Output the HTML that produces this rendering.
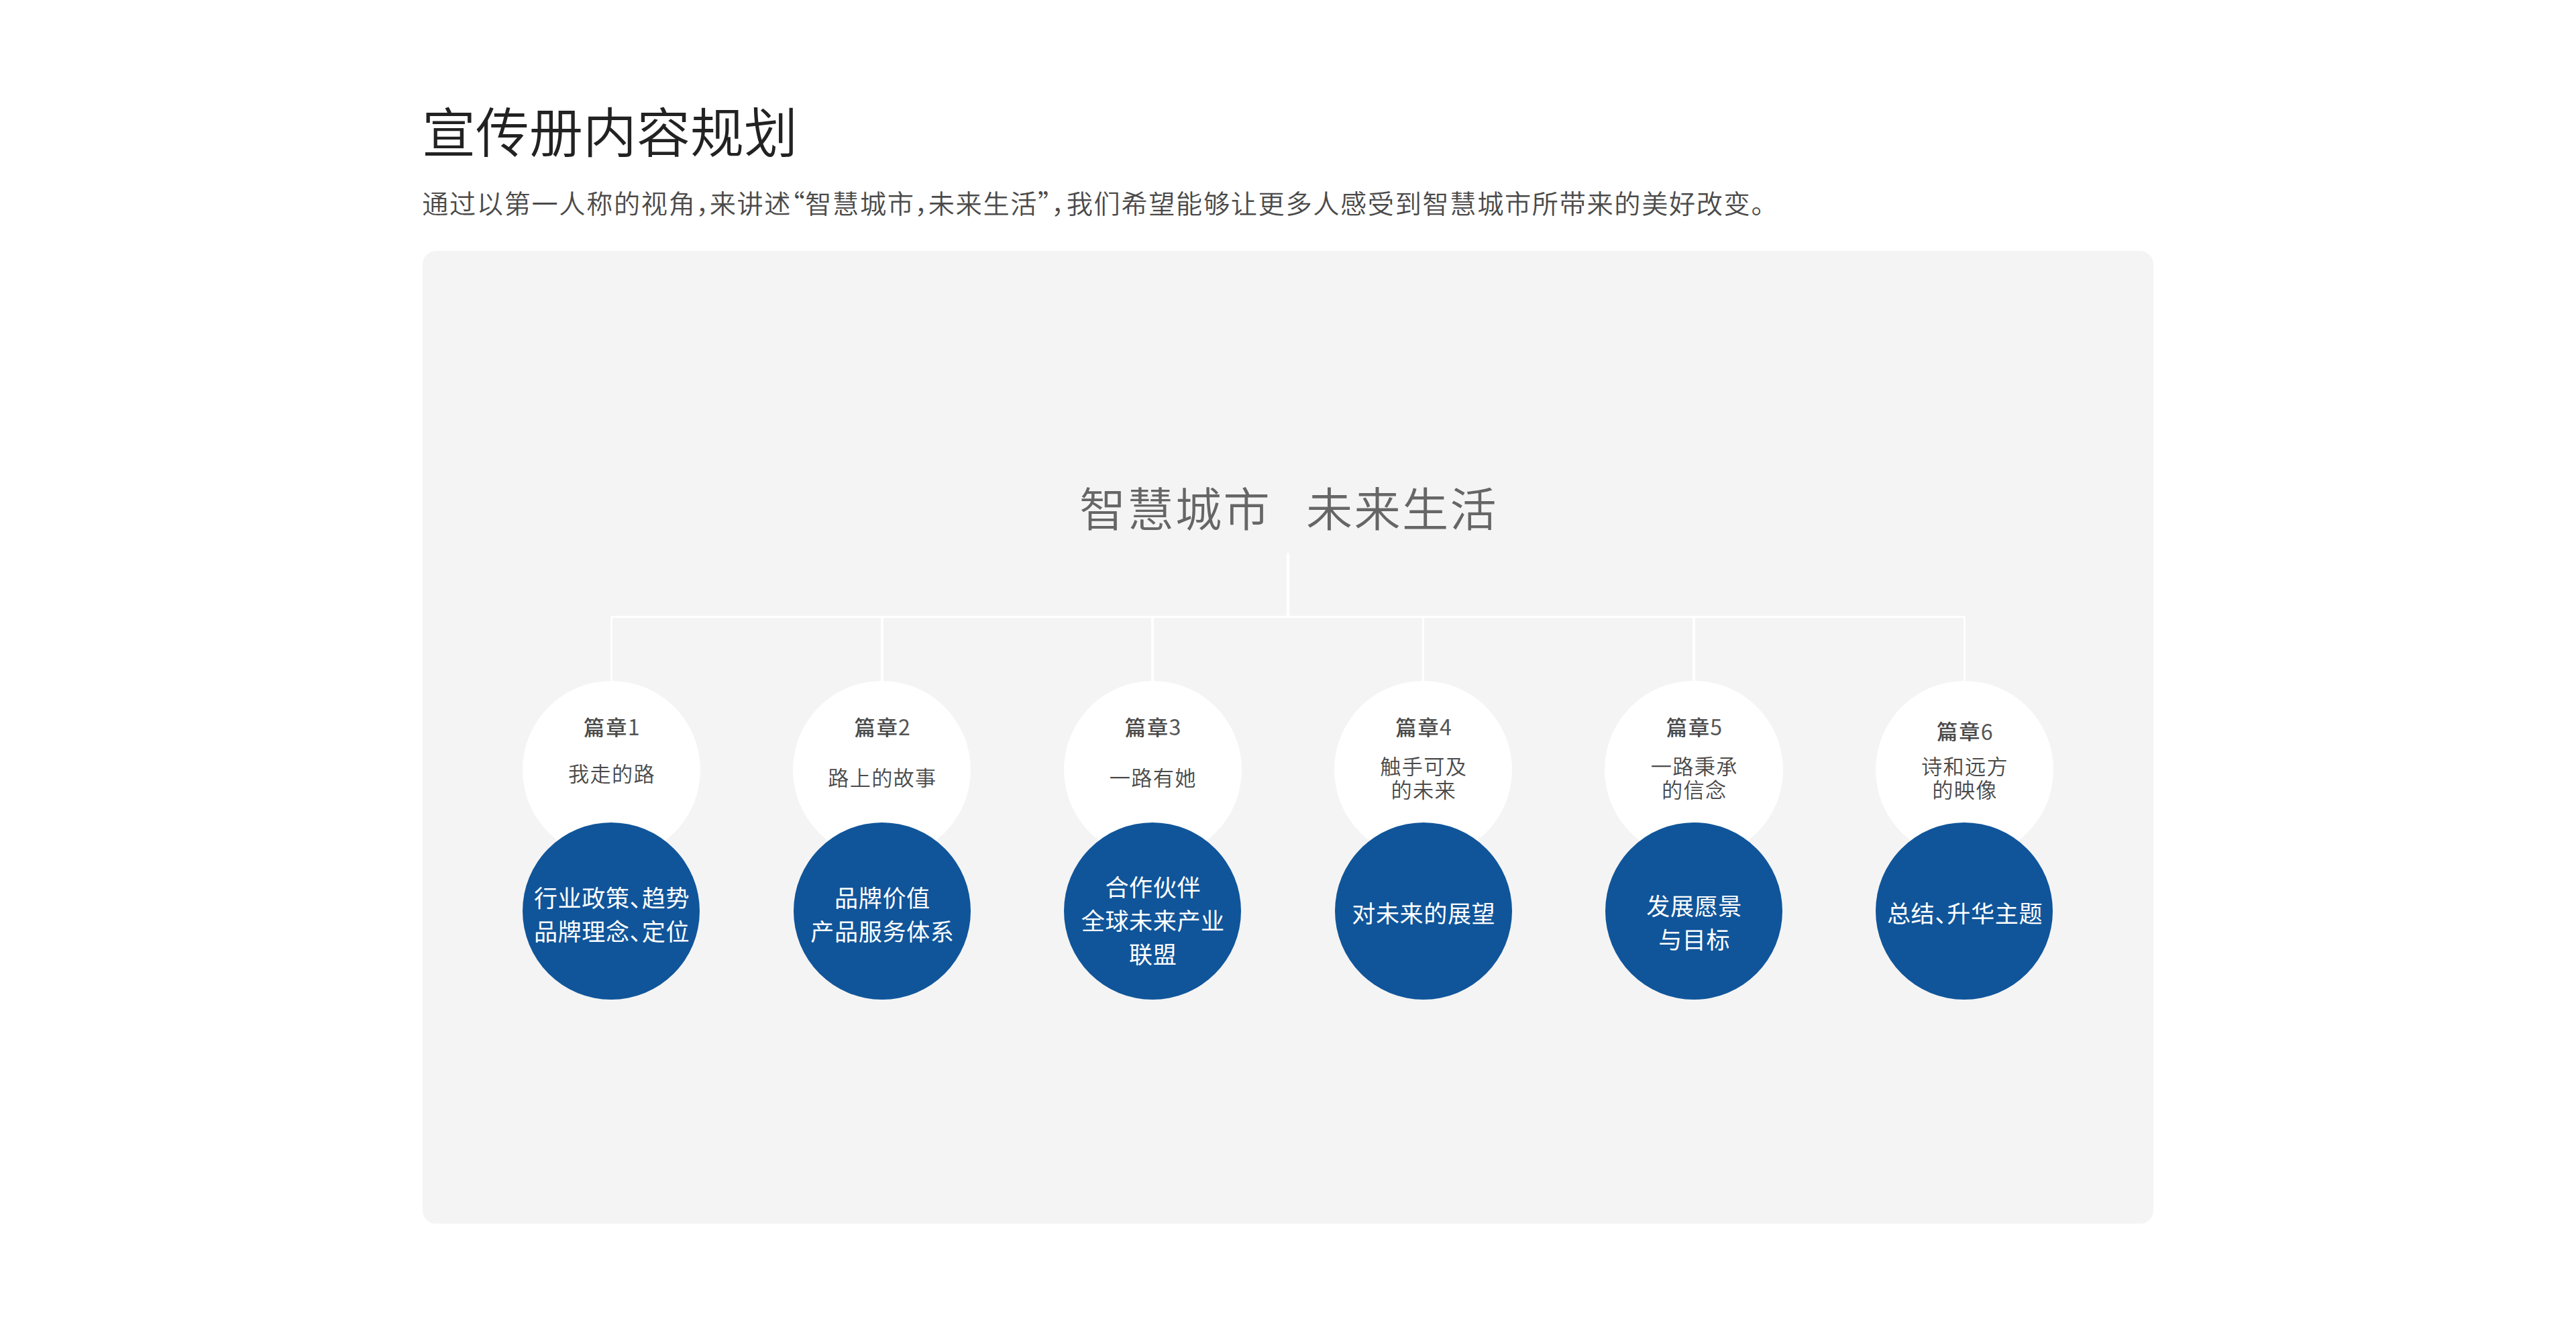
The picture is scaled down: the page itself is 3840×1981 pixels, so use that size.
<!DOCTYPE html>
<html lang="zh-CN">
<head>
<meta charset="utf-8">
<title>宣传册内容规划</title>
<style>
html,body{margin:0;padding:0;background:#fff;}
body{width:3840px;height:1981px;position:relative;overflow:hidden;
  font-family:"Liberation Sans","Noto Sans CJK SC",sans-serif;
  -webkit-font-smoothing:antialiased;}
.n{font-family:"Noto Sans CJK SC","Liberation Sans",sans-serif;}
.abs{position:absolute;white-space:nowrap;}
.p{letter-spacing:0.57px;}
#title{left:628.9px;top:141.5px;font-size:80px;line-height:116px;font-weight:350;color:#222;}
#sub{left:629.2px;top:270.7px;font-size:39.2px;letter-spacing:1.64px;line-height:60px;font-weight:350;color:#4a4a4a;
  font-feature-settings:"halt" 1;}
#panel{position:absolute;left:630px;top:373.6px;width:2580px;height:1450.4px;border-radius:20px;background:#f4f4f4;}
#ct{left:1321px;width:1200px;text-align:center;top:708.6px;font-size:69.2px;letter-spacing:2.3px;line-height:104px;font-weight:350;color:#666;}
#ct span{display:inline-block;width:52px;}
.ln{position:absolute;background:#fff;}
.wc{position:absolute;width:265.4px;height:265.4px;border-radius:50%;background:#fff;top:1015px;}
.bc{position:absolute;width:264.2px;height:264.2px;border-radius:50%;background:#10559a;top:1226.1px;}
.ch{position:absolute;width:400px;text-align:center;white-space:nowrap;font-size:31.2px;letter-spacing:2px;text-indent:2.8px;line-height:40px;font-weight:500;color:#4a4a4a;}
.ch .n{font-size:32.2px;font-weight:400;color:#555;position:relative;top:0.3px;line-height:0;margin-left:-0.8px;}
.st{position:absolute;width:400px;text-align:center;white-space:nowrap;font-size:31.2px;letter-spacing:1.3px;padding-left:1.3px;line-height:35px;font-weight:350;color:#4a4a4a;}
.bt{position:absolute;width:400px;text-align:center;white-space:nowrap;font-size:35.1px;letter-spacing:0.6px;padding-left:0.6px;line-height:50.04px;font-weight:400;color:#fff;
  font-feature-settings:"halt" 1;}
</style>
</head>
<body>
<div id="title" class="abs">宣传册内容规划</div>
<div id="sub" class="abs">通过以第一人称的视角<span class="p">，</span>来讲述<span class="n p">“</span>智慧城市<span class="p">，</span>未来生活<span class="n p">”</span><span class="p" style="letter-spacing:2.9px">，</span>我们希望能够让更多人感受到智慧城市所带来的美好改变。</div>
<div id="panel"></div>
<div id="ct" class="abs">智慧城市<span> </span>未来生活</div>

<!-- connector lines -->
<div class="ln" style="left:1918px;top:824px;width:4px;height:96px;"></div>
<div class="ln" style="left:909.7px;top:917.9px;width:2020.4px;height:3.3px;"></div>
<div class="ln" style="left:909.6px;top:919px;width:3.6px;height:100px;"></div>
<div class="ln" style="left:1313.0px;top:919px;width:3.6px;height:100px;"></div>
<div class="ln" style="left:1716.4px;top:919px;width:3.6px;height:100px;"></div>
<div class="ln" style="left:2119.9px;top:919px;width:3.6px;height:100px;"></div>
<div class="ln" style="left:2523.3px;top:919px;width:3.6px;height:100px;"></div>
<div class="ln" style="left:2926.6px;top:919px;width:3.6px;height:100px;"></div>

<!-- white circles -->
<div class="wc" style="left:778.7px;"></div>
<div class="wc" style="left:1182.1px;"></div>
<div class="wc" style="left:1585.5px;"></div>
<div class="wc" style="left:1989.0px;"></div>
<div class="wc" style="left:2392.4px;"></div>
<div class="wc" style="left:2795.7px;"></div>

<!-- blue circles -->
<div class="bc" style="left:779.3px;"></div>
<div class="bc" style="left:1182.7px;"></div>
<div class="bc" style="left:1586.1px;"></div>
<div class="bc" style="left:1989.6px;"></div>
<div class="bc" style="left:2393.0px;"></div>
<div class="bc" style="left:2796.3px;"></div>

<!-- chapter labels -->
<div class="ch" style="left:711.4px;top:1065.6px;">篇章<span class="n">1</span></div>
<div class="ch" style="left:1114.8px;top:1065.6px;">篇章<span class="n">2</span></div>
<div class="ch" style="left:1518.2px;top:1065.6px;">篇章<span class="n">3</span></div>
<div class="ch" style="left:1921.7px;top:1065.6px;">篇章<span class="n">4</span></div>
<div class="ch" style="left:2325.1px;top:1065.6px;">篇章<span class="n">5</span></div>
<div class="ch" style="left:2728.4px;top:1072.3px;">篇章<span class="n">6</span></div>

<!-- chapter subtitles -->
<div class="st" style="left:710.7px;top:1136.9px;">我走的路</div>
<div class="st" style="left:1114.1px;top:1143.3px;">路上的故事</div>
<div class="st" style="left:1517.5px;top:1143.3px;">一路有她</div>
<div class="st" style="left:1921.0px;top:1125.6px;">触手可及<br>的未来</div>
<div class="st" style="left:2324.4px;top:1125.6px;">一路秉承<br>的信念</div>
<div class="st" style="left:2727.7px;top:1125.6px;">诗和远方<br>的映像</div>

<!-- blue circle text -->
<div class="bt" style="left:711.4px;top:1315.0px;">行业政策、趋势<br>品牌理念、定位</div>
<div class="bt" style="left:1114.8px;top:1315.0px;">品牌价值<br>产品服务体系</div>
<div class="bt" style="left:1518.2px;top:1299.0px;">合作伙伴<br>全球未来产业<br>联盟</div>
<div class="bt" style="left:1921.7px;top:1338.0px;">对未来的展望</div>
<div class="bt" style="left:2325.1px;top:1327.0px;">发展愿景<br>与目标</div>
<div class="bt" style="left:2728.4px;top:1338.0px;">总结、升华主题</div>
</body>
</html>
